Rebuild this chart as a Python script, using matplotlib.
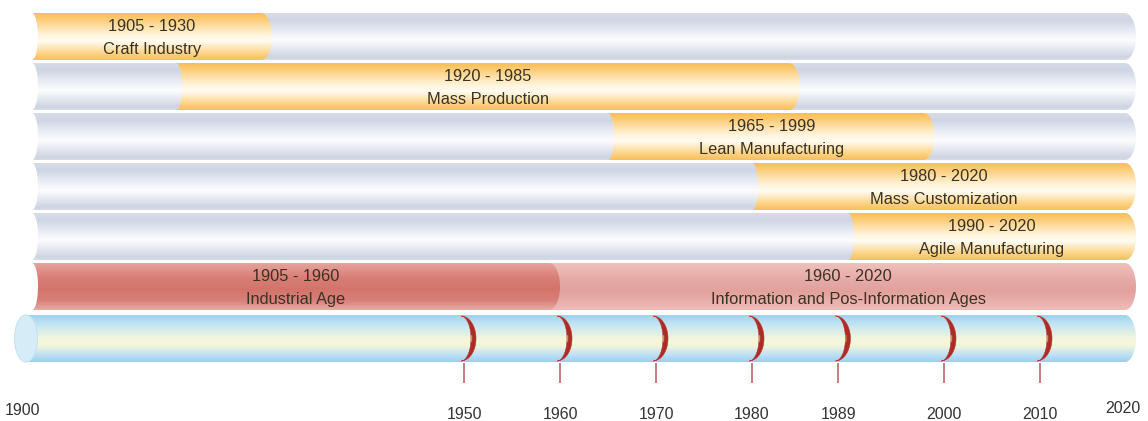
import numpy as np
import matplotlib
matplotlib.use("Agg")
import matplotlib.pyplot as plt
from matplotlib.path import Path
from matplotlib.patches import PathPatch, Ellipse, Arc
from matplotlib.colors import LinearSegmentedColormap

plt.rcParams['font.family'] = ['Liberation Sans', 'DejaVu Sans']

# Manufacturing paradigms
era_labels = ["Craft Industry", "Mass Production", "Lean Manufacturing",
              "Mass Customization", "Agile Manufacturing"]
era_start = [1905, 1920, 1965, 1980, 1990]
era_end = [1930, 1985, 1999, 2020, 2020]

# Broad historical ages
age_labels = ["Industrial Age", "Information and Pos-Information Ages"]
age_start = [1905, 1960]
age_end = [1960, 2020]

# Timeline markers
tick_years = [1950, 1960, 1970, 1980, 1989, 2000, 2010]
axis_first, axis_last = 1900, 2020
track_start, track_end = 1905, 2020

# ---- layout (pixels, figure is 1148 x 421) ----
W, H = 1148, 421
PX_PER_YEAR = 9.6
X0_PX = 32                      # where track_start sits
row_top0, row_pitch, row_h = 13, 50, 47
tl_top, tl_h = 315, 47

fig = plt.figure(figsize=(W / 100, H / 100), dpi=100)
ax = fig.add_axes([0, 0, 1, 1])
ax.axis('off')
xmin = track_start - X0_PX / PX_PER_YEAR
xmax = xmin + W / PX_PER_YEAR


def yrs(px):
    return px / PX_PER_YEAR


def capsule(x0, x1, top, bot, rl, rr, left='concave'):
    yc, hy = (top + bot) / 2, (bot - top) / 2
    t = np.linspace(np.pi / 2, -np.pi / 2, 50)
    xr = x1 - rr + rr * np.cos(t)
    yr = yc - hy * np.sin(t)
    t2 = t[::-1]
    if left == 'concave':
        xl = x0 + rl * np.cos(t2)
    elif left == 'convex':
        xl = x0 + rl - rl * np.cos(t2)
    else:
        xl = np.full_like(t2, x0)
    yl = yc - hy * np.sin(t2)
    verts = np.concatenate([np.column_stack([xr, yr]),
                            np.column_stack([xl, yl]),
                            [[xr[0], yr[0]]]])
    codes = [Path.MOVETO] + [Path.LINETO] * (len(verts) - 2) + [Path.CLOSEPOLY]
    return Path(verts, codes)


def crescent(xc, yc, hy, rx_out, rx_in):
    t = np.linspace(np.pi / 2, -np.pi / 2, 50)
    outer = np.column_stack([xc + rx_out * np.cos(t), yc - hy * np.sin(t)])
    inner = np.column_stack([xc + rx_in * np.cos(t[::-1]),
                             yc - hy * np.sin(t[::-1])])
    verts = np.concatenate([outer, inner, outer[:1]])
    codes = [Path.MOVETO] + [Path.LINETO] * (len(verts) - 2) + [Path.CLOSEPOLY]
    return Path(verts, codes)


def gradient_fill(path, stops, x0, x1, top, bot, z):
    cmap = LinearSegmentedColormap.from_list('g', stops)
    grad = np.linspace(0, 1, 256).reshape(-1, 1)
    im = ax.imshow(grad, cmap=cmap, extent=(x0 - 2, x1 + 2, bot, top),
                   aspect='auto', origin='upper', interpolation='bilinear',
                   zorder=z)
    clip = PathPatch(path, transform=ax.transData, facecolor='none',
                     edgecolor='none')
    ax.add_patch(clip)
    im.set_clip_path(clip)


grey = [(0, '#d8dde8'), (0.15, '#ced5e3'), (0.35, '#e5e9f1'),
        (0.58, '#fdfdfe'), (0.8, '#e0e4ee'), (0.94, '#cfd4e3'),
        (1, '#d8dce7')]
orange = [(0, '#f9bd55'), (0.15, '#fcce7c'), (0.45, '#fff3d8'),
          (0.6, '#fffcf2'), (0.85, '#fdd58a'), (1, '#f8bf5a')]
red_dark = [(0, '#e6a49d'), (0.3, '#d97f76'), (0.55, '#d3746b'),
            (0.8, '#d8807a'), (1, '#e8aca6')]
red_light = [(0, '#f0c0bc'), (0.35, '#e6aaa6'), (0.6, '#e2a19d'),
             (1, '#efbdb9')]
blue = [(0, '#9dd2ee'), (0.2, '#c3e4f3'), (0.5, '#f4f7dc'),
        (0.65, '#f2f6da'), (0.85, '#bde0f2'), (1, '#9ccfee')]

RL, RR = yrs(6), yrs(11)
text_color = '#3a3223'
fs = 11.8

# ---- paradigm rows ----
for i, (lab, s, e) in enumerate(zip(era_labels, era_start, era_end)):
    top = row_top0 + i * row_pitch
    bot = top + row_h
    gradient_fill(capsule(track_start, track_end, top, bot, RL, RR),
                  grey, track_start, track_end, top, bot, 1)
    gradient_fill(capsule(s, e, top, bot, RL, RR),
                  orange, s, e, top, bot, 2)
    mid = (s + e) / 2
    ax.text(mid, top + 18, f"{s} - {e}", ha='center', va='baseline',
            fontsize=fs, color=text_color, zorder=5)
    ax.text(mid, top + 41, lab, ha='center', va='baseline',
            fontsize=fs, color=text_color, zorder=5)

# ---- ages row ----
top = row_top0 + len(era_labels) * row_pitch
bot = top + row_h
gradient_fill(capsule(age_start[1] - 3, age_end[1], top, bot, RL, RR),
              red_light, age_start[1] - 3, age_end[1], top, bot, 2)
gradient_fill(capsule(age_start[0], age_end[0], top, bot, RL, RR),
              red_dark, age_start[0], age_end[0], top, bot, 3)
for lab, s, e in zip(age_labels, age_start, age_end):
    mid = (s + e) / 2
    ax.text(mid, top + 18, f"{s} - {e}", ha='center', va='baseline',
            fontsize=fs, color=text_color, zorder=5)
    ax.text(mid, top + 41, lab, ha='center', va='baseline',
            fontsize=fs, color=text_color, zorder=5)

# ---- timeline tube ----
tl_bot = tl_top + tl_h
tl_yc = (tl_top + tl_bot) / 2
tl_x0 = track_start - yrs(6)
gradient_fill(capsule(tl_x0, track_end, tl_top, tl_bot, 0, RR, left='flat'),
              blue, tl_x0, track_end, tl_top, tl_bot, 2)
ax.add_patch(Ellipse((tl_x0, tl_yc), width=yrs(23), height=tl_h,
                     facecolor='#d6edf8', edgecolor='#c4e3f3',
                     lw=0.8, zorder=3))

for y in tick_years:
    xc = y - yrs(3)
    ax.add_patch(PathPatch(crescent(xc, tl_yc, tl_h / 2 - 1, yrs(15), yrs(10)),
                           facecolor='#ad2c26', edgecolor='#b3352d', lw=0.4,
                           zorder=4))
    ax.add_patch(Arc((xc, tl_yc), width=yrs(21), height=tl_h - 6,
                     theta1=-72, theta2=72, color='#e8844f', lw=1.0,
                     zorder=4))
    ax.plot([y, y], [tl_bot + 1, tl_bot + 21], color='#c27272', lw=1.3,
            zorder=4, solid_capstyle='butt')
    ax.text(y, 419, str(y), ha='center', va='baseline', fontsize=11.5,
            color='#333333')

ax.text(xmin + yrs(22), 415, str(axis_first), ha='center', va='baseline',
        fontsize=11.5, color='#333333')
ax.text(xmin + yrs(1123), 413, str(axis_last), ha='center', va='baseline',
        fontsize=11.5, color='#333333')

ax.set_xlim(xmin, xmax)
ax.set_ylim(H, 0)
fig.savefig("out.png", dpi=100, facecolor='white')
